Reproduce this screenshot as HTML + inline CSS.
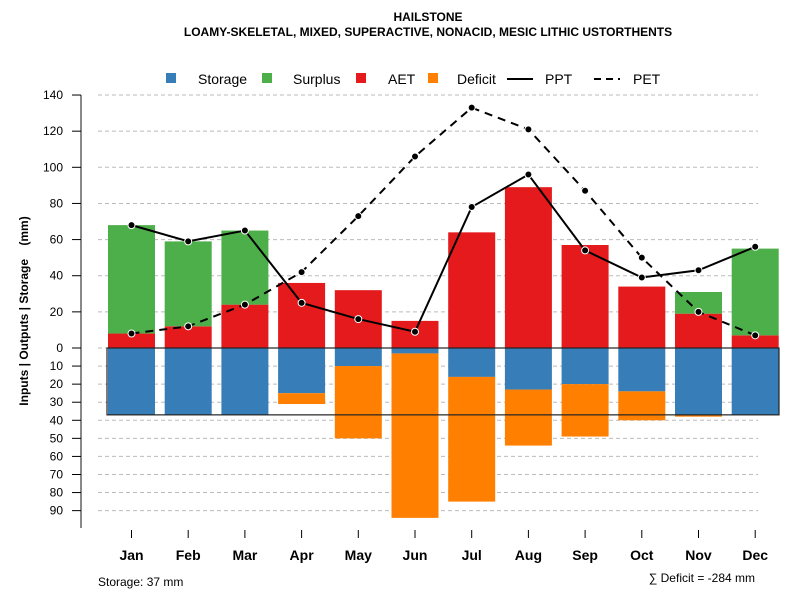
<!DOCTYPE html>
<html><head><meta charset="utf-8"><style>
body{margin:0;background:#fff}
svg{font-family:"Liberation Sans",Arial,sans-serif;display:block}
</style></head><body>
<svg id="c" width="800" height="600" viewBox="0 0 800 600">
<text x="428" y="21" font-size="12" font-weight="bold" text-anchor="middle">HAILSTONE</text>
<text x="428" y="36" font-size="12" font-weight="bold" text-anchor="middle">LOAMY-SKELETAL, MIXED, SUPERACTIVE, NONACID, MESIC LITHIC USTORTHENTS</text>
<g id="legend">
<rect x="166" y="73" width="10" height="10" fill="#377eb8"/>
<text x="198" y="84" font-size="14">Storage</text>
<rect x="262" y="73" width="10" height="10" fill="#4daf4a"/>
<text x="293" y="84" font-size="14">Surplus</text>
<rect x="356" y="73" width="10" height="10" fill="#e41a1c"/>
<text x="388" y="84" font-size="14">AET</text>
<rect x="428" y="73" width="10" height="10" fill="#ff7f00"/>
<text x="457" y="84" font-size="14">Deficit</text>
<line x1="507" y1="79" x2="533" y2="79" stroke="#000" stroke-width="2"/>
<text x="545" y="84" font-size="14">PPT</text>
<line x1="594" y1="79" x2="620" y2="79" stroke="#000" stroke-width="2" stroke-dasharray="7,5"/>
<text x="633" y="84" font-size="14">PET</text>
</g>
<text transform="translate(28,311) rotate(-90)" font-size="12" font-weight="bold" text-anchor="middle">Inputs | Outputs | Storage &#160;&#160; (mm)</text>
<text x="98" y="586" font-size="12">Storage: 37 mm</text>
<text x="755" y="582" font-size="12" text-anchor="end">∑ Deficit = -284 mm</text>
<g id="plot"></g>
</svg>
<script>
const months=["Jan","Feb","Mar","Apr","May","Jun","Jul","Aug","Sep","Oct","Nov","Dec"];
const aet=[8,12,24,36,32,15,64,89,57,34,19,7];
const surplus=[60,47,41,0,0,0,0,0,0,0,12,48];
const storage=[37,37,37,25,10,3,16,23,20,24,37,37];
const deficit=[0,0,0,6,40,91,69,31,29,16,1,0];
const ppt=[68,59,65,25,16,9,78,96,54,39,43,56];
const pet=[8,12,24,42,73,106,133,121,87,50,20,7];
const upTicks=[0,20,40,60,80,100,120,140];
const downTicks=[10,20,30,40,50,60,70,80,90];
const awc=37;

const NS="http://www.w3.org/2000/svg";
const g=document.getElementById('plot');
const y0=348,k=1.807;
const yUp=v=>y0-v*k, yDn=v=>y0+v*k;
const xc=i=>131.5+i*56.7;
const bw=47;
function el(t,a,p){const e=document.createElementNS(NS,t);for(const n in a)e.setAttribute(n,a[n]);(p||g).appendChild(e);return e;}

let ax=el('line',{x1:81,y1:95,x2:81,y2:528,stroke:'#888','stroke-width':2});


function tick(y,lab){
  const gl=el('line',{x1:98,y1:y,x2:758,y2:y,stroke:'#bbb','stroke-dasharray':'4,3'});
  
  
  const t=el('line',{x1:72,y1:y,x2:81,y2:y,stroke:'#000'});
  
  
  const tx=el('text',{x:63,y:y+4,'font-size':12,'text-anchor':'end'});
  tx.textContent=lab;
  
  
}
upTicks.forEach(v=>tick(yUp(v),v));
downTicks.forEach(v=>tick(yDn(v),v));

months.forEach((m,i)=>{
  const x=xc(i)-bw/2;
  function bar(y1,y2,c,name){
    if(Math.abs(y2-y1)<0.01)return;
    const r=el('rect',{x:x,y:Math.min(y1,y2),width:bw,height:Math.abs(y2-y1),fill:c});
    
    
  }
  bar(yUp(0),yUp(aet[i]),'#e41a1c','aet');
  bar(yUp(aet[i]),yUp(aet[i]+surplus[i]),'#4daf4a','surplus');
  bar(yDn(0),yDn(storage[i]),'#377eb8','storage');
  bar(yDn(storage[i]),yDn(storage[i]+deficit[i]),'#ff7f00','deficit');
  const t=el('line',{x1:xc(i),y1:530,x2:xc(i),y2:538,stroke:'#000'});
  
  
  const tx=el('text',{x:xc(i),y:560,'font-size':14,'font-weight':'bold','text-anchor':'middle'});
  tx.textContent=m;
  
  
});
const box=el('rect',{x:107,y:yDn(0),width:672,height:awc*k,fill:'none',stroke:'#222','stroke-width':1.2});



function series(arr,dash,name){
  const pts=arr.map((v,i)=>xc(i)+','+yUp(v)).join(' ');
  const a={points:pts,fill:'none',stroke:'#000','stroke-width':2};
  if(dash)a['stroke-dasharray']='8,6';
  const p=el('polyline',a);
  
  
  arr.forEach((v,i)=>{
    const c=el('circle',{cx:xc(i),cy:yUp(v),r:3.5,fill:'#000',stroke:'#fff','stroke-width':1});
    
    
  });
}
series(pet,true,'pet');
series(ppt,false,'ppt');
</script>
</body></html>
